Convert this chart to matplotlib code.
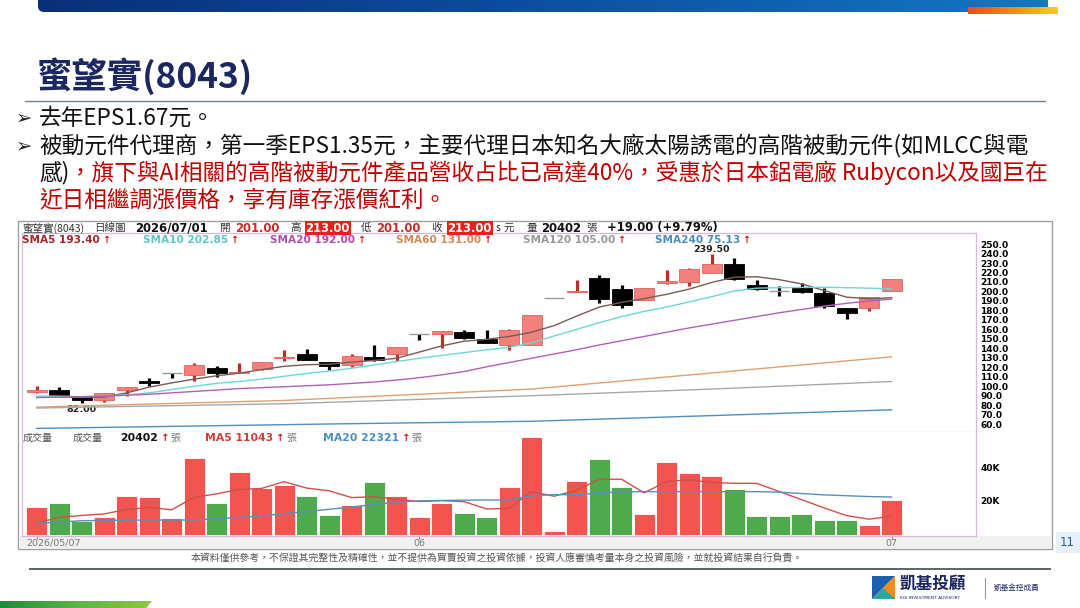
import numpy as np
import matplotlib.pyplot as plt
from matplotlib.patches import Rectangle, FancyBboxPatch, Polygon
from matplotlib.colors import LinearSegmentedColormap

plt.rcParams['font.family'] = ['Noto Sans CJK TC', 'DejaVu Sans']

# 日K資料 2026/05/07 ~ 2026/07/01
opens  = [93.5, 96, 88.5, 85.7, 95.5, 105, 114, 112, 119, 114, 118, 130, 133.5, 126, 122.5, 130.5, 134, 155.5, 155.5, 157,
          150, 143, 144, 193, 199, 214, 203, 191.5, 208.5, 210, 219.5, 229, 207, 200.5, 204, 198.5, 182.5, 182.5, 201]
highs  = [100.5, 99.5, 88.5, 93, 99.5, 108.5, 114, 124.5, 121.5, 124.5, 126, 138.5, 139, 126, 134, 144, 141.5, 155.5, 158.5, 159.5,
          159.5, 160, 175.5, 193, 212.5, 217, 207, 203.5, 223, 225, 239.5, 235.5, 212, 205.5, 209, 204, 182.5, 194, 213]
lows   = [93, 90, 82, 83, 90, 100.5, 108.5, 106, 110, 113.5, 117.5, 127, 128, 117.5, 120, 127, 127, 148.5, 140.5, 150,
          145.5, 138, 143.5, 193, 199, 188, 183, 191.5, 208, 205.5, 219.5, 212.5, 202, 195, 198.5, 182.5, 171, 179, 201]
closes = [96.3, 91, 85, 92.8, 99, 103.5, 114, 122.7, 114, 115, 125.5, 131, 128, 121.5, 132, 128, 141.5, 155.5, 158, 151,
          146, 159.5, 175.5, 193, 200, 192, 185.5, 203.5, 211.5, 224, 228.5, 213.5, 203, 200.5, 199, 185, 177.5, 194, 213]
volumes = [16.3, 19.0, 8.4, 10.8, 22.9, 22.5, 9.8, 45.3, 19.0, 37.2, 27.5, 29.4, 23.1, 11.8, 17.6, 31.4, 23.1, 10.8, 18.6, 12.7,
           10.4, 28.0, 57.8, 2.4, 31.8, 44.5, 28.0, 12.4, 42.7, 36.7, 34.7, 26.9, 11.4, 11.2, 12.4, 8.8, 8.8, 5.9, 20.4]  # 千張

sma5  = [88.5, 88.5, 88.5, 88.5, 93, 99, 103.5, 107.5, 111, 113.8, 117.5, 121, 122.7, 123.2, 125.5, 127.2, 129.5, 136, 142.5, 147.5,
         149.5, 152.5, 157, 164, 174, 183.5, 188.5, 192.5, 197, 202.5, 209.5, 215, 215.5, 212.5, 208, 201, 194, 192.3, 193.4]
sma10 = [89.5, 89.5, 89, 89.5, 91, 93, 96.5, 100, 103, 105, 107.5, 110.5, 113.5, 116, 119, 122.5, 126, 129.5, 132.5, 135.5,
         138.5, 141, 146, 153, 160, 167, 173.5, 179, 183.5, 189, 194.5, 200.5, 203.5, 204, 204.3, 204.4, 204, 203.5, 202.85]
sma20 = [88, 88.5, 89, 89.5, 90.5, 91.5, 93, 94.5, 96, 97.5, 98.5, 99.5, 100.5, 101.5, 103, 104.5, 106.5, 109, 112, 115.5,
         120.5, 125, 129.5, 134, 138.5, 143.5, 148, 152.5, 157, 161.5, 165.5, 169.5, 173.5, 177.5, 181, 184.5, 187.5, 190, 192]
sma60_idx,  sma60  = [0, 11, 22, 30, 38], [78, 85, 97, 114, 131]
sma120_idx, sma120 = [0, 11, 22, 30, 38], [77, 81.5, 90, 97, 105]
sma240_idx, sma240 = [0, 14, 22, 30, 38], [55.5, 60.5, 63, 69, 75.13]

vol_ma5  = [6.9, 10.4, 11.5, 12.4, 15.0, 16.3, 14.8, 22.2, 24.2, 26.8, 27.4, 31.4, 27.6, 26.0, 22.0, 22.5, 21.0, 19.7, 20.2, 19.6,
            15.3, 15.7, 25.5, 22.8, 26.3, 32.8, 32.8, 24.8, 31.5, 32.4, 30.9, 30.4, 30.4, 25.6, 20.8, 15.9, 11.4, 9.3, 11.04]
vol_ma20 = [6.9, 7.6, 8.4, 8.6, 8.7, 8.8, 8.8, 8.8, 9.6, 10.3, 11.3, 12.6, 13.8, 15.1, 16.5, 17.9, 19.3, 20.1, 20.3, 20.5,
            20.6, 20.6, 23.0, 23.8, 23.6, 24.8, 25.4, 25.5, 25.5, 25.5, 25.5, 25.5, 25.5, 25.2, 24.4, 23.6, 23.1, 22.6, 22.32]

date_idx = [0, 17, 38]
date_labels = ['2026/05/07', '06', '07']
price_ticks = np.arange(60, 251, 10)
vol_ticks = [20, 40]
vol_tick_labels = ['20K', '40K']

# 顏色
RED_BODY, RED_EDGE, RED_WICK = '#f3807c', '#e2625e', '#c22a2a'
VOL_RED, VOL_GREEN = '#f25450', '#4fa94d'
MA_COL = {'5': '#7a5a55', '10': '#6fd6d6', '20': '#b35fb8', '60': '#e0a070', '120': '#a8a8a8', '240': '#4d8fbf'}
TXT_RED = '#c00000'
NAVY = '#1c2661'

W, H = 1080, 608
fig = plt.figure(figsize=(W / 100, H / 100), dpi=100)
fig.patch.set_facecolor('white')


def px_rect(x0, y0, x1, y1):
    return [x0 / W, 1 - y1 / H, (x1 - x0) / W, (y1 - y0) / H]


bg = fig.add_axes([0, 0, 1, 1], zorder=0)
bg.axis('off')
ax = fig.add_axes(px_rect(22, 233, 976, 432), zorder=1)
axv = fig.add_axes(px_rect(22, 432, 976, 536), zorder=1, sharex=ax)
fg = fig.add_axes([0, 0, 1, 1], zorder=3)
fg.axis('off')
for a in (bg, fg):
    a.set_xlim(0, W)
    a.set_ylim(H, 0)


def grad(a, x0, x1, y0, y1, cols, clip):
    cmap = LinearSegmentedColormap.from_list('g', cols)
    im = a.imshow(np.linspace(0, 1, 256)[None, :], cmap=cmap, extent=(x0, x1, y1, y0),
                  aspect='auto', zorder=2, interpolation='bilinear')
    clip.set_transform(a.transData)
    im.set_clip_path(clip)


# 上方藍色橫條 + 橘色
grad(bg, 38, 1048, -8, 12, ['#0a2f7a', '#0d4fa0', '#1377c4'],
     FancyBboxPatch((38, -8), 1010, 20, boxstyle='round,pad=0,rounding_size=6'))
grad(bg, 968, 1058, 7, 14, ['#e0501e', '#f08a1c', '#f5cf1a'],
     Rectangle((968, 7), 90, 7))
# 左下綠色條
grad(bg, 0, 152, 601, 608, ['#1e8c3a', '#5bb545', '#8cc63f'],
     Polygon([(0, 601), (152, 601), (146, 608), (0, 608)]))

# 標題與內文
fg.text(37, 76, '蜜望實(8043)', fontsize=25.5, fontweight='bold', color=NAVY, va='center', ha='left')
bg.plot([25, 1045], [101, 101], color='#6f7f8f', lw=1)

renderer = fig.canvas.get_renderer()


def seq(x, y, parts, size, **kw):
    for s, col, gap in parts:
        t = fg.text(x, y, s, color=col, fontsize=size, va='center', ha='left', **kw)
        x = t.get_window_extent(renderer).x1 + gap
    return x


def put(x, y, s, col, size, **kw):
    fg.text(x, y, s, color=col, fontsize=size, va='center', ha='left', **kw)


for yy in (118, 146):
    fg.text(16, yy, '➢', fontsize=14, family=['DejaVu Sans'], va='center', ha='left', color='#222')
fs = 16.3
fg.text(39, 118, '去年EPS1.67元。', fontsize=fs, va='center', color='#111')
fg.text(39, 146, '被動元件代理商，第一季EPS1.35元，主要代理日本知名大廠太陽誘電的高階被動元件(如MLCC與電',
        fontsize=fs, va='center', color='#111')
seq(39, 173, [('感)', '#111', 0),
              ('，旗下與AI相關的高階被動元件產品營收占比已高達40%，受惠於日本鋁電廠 Rubycon以及國巨在', TXT_RED, 0)], fs)
fg.text(39, 200, '近日相繼調漲價格，享有庫存漲價紅利。', fontsize=fs, va='center', color=TXT_RED)

# 圖表外框
bg.add_patch(Rectangle((18, 221), 1034, 328, facecolor='white', edgecolor='#a0a0a0', lw=1, zorder=1))
bg.add_patch(Rectangle((19, 536), 1032, 12, facecolor='#f1f1f1', edgecolor='none', zorder=1.5))

x = np.arange(len(closes))
o, h, l, c = map(np.array, (opens, highs, lows, closes))
up = c > o
flat = np.abs(c - o) < 0.3

# K線
ax.vlines(x, l, h, colors=np.where(up, RED_WICK, 'black'), lw=2.3, zorder=2)
body = ~flat
ax.bar(x[body], np.abs(c - o)[body], bottom=np.minimum(o, c)[body], width=0.88,
       color=np.where(up, RED_BODY, 'black')[body], edgecolor=np.where(up, RED_EDGE, 'black')[body],
       lw=0.6, zorder=3)
ax.hlines(o[flat], x[flat] - 0.44, x[flat] + 0.44, colors='#9a9a9a', lw=1, zorder=3)

ax.plot(x, sma5, color=MA_COL['5'], lw=1, zorder=4)
ax.plot(x, sma10, color=MA_COL['10'], lw=1, zorder=4)
ax.plot(x, sma20, color=MA_COL['20'], lw=1, zorder=4)
ax.plot(sma60_idx, sma60, color=MA_COL['60'], lw=1, zorder=4)
ax.plot(sma120_idx, sma120, color=MA_COL['120'], lw=1, zorder=4)
ax.plot(sma240_idx, sma240, color=MA_COL['240'], lw=1, zorder=4)

hi = int(np.argmax(h))
lo = int(np.argmin(l))
ax.annotate(f'{h[hi]:.2f}', (hi, h[hi]), xytext=(0, 0), textcoords='offset points', ha='center', va='bottom',
            fontsize=6.8, fontweight='bold', family=['DejaVu Sans'], color='#222', zorder=6)
ax.annotate(f'{l[lo]:.2f}', (lo, l[lo]), xytext=(0, -1.5), textcoords='offset points', ha='center', va='top',
            fontsize=6.8, fontweight='bold', family=['DejaVu Sans'], color='#222')

ax.set_xlim(-0.65, 41.75)
ax.set_ylim(51.7, 261.7)
ax.yaxis.tick_right()
ax.set_yticks(price_ticks)
ax.set_yticklabels([f'{v:.1f}' for v in price_ticks], fontsize=6.5, fontweight='bold', family=['DejaVu Sans'])
ax.tick_params(axis='y', length=0, pad=3)
ax.tick_params(axis='x', bottom=False, labelbottom=False)
for s in ax.spines.values():
    s.set_color('#dcb6d6')
    s.set_linewidth(0.9)

# 成交量
vup = np.r_[True, c[1:] >= c[:-1]]
axv.bar(x, volumes, width=0.94, color=np.where(vup, VOL_RED, VOL_GREEN), edgecolor='white', lw=0.6, zorder=2)
axv.plot(x, vol_ma5, color='#d0504a', lw=1, zorder=3)
axv.plot(x, vol_ma20, color='#5a8fb8', lw=1, zorder=3)
axv.set_ylim(-0.6, 60.6)
axv.yaxis.tick_right()
axv.set_yticks(vol_ticks)
axv.set_yticklabels(vol_tick_labels, fontsize=6.5, fontweight='bold', family=['DejaVu Sans'])
axv.tick_params(axis='y', length=0, pad=3)
axv.set_xticks(date_idx)
axv.set_xticklabels([])
axv.tick_params(axis='x', length=2, color='#888')
for s in axv.spines.values():
    s.set_color('#dcb6d6')
    s.set_linewidth(0.9)
axv.spines['top'].set_visible(False)

for i, lab in zip(date_idx, date_labels):
    xp = 22 + (i + 0.65) * (954 / 42.4)
    fg.text(xp - 10 if i == 0 else xp, 543, lab, fontsize=6.8, color='#777', family=['DejaVu Sans'],
            ha='left' if i == 0 else 'center', va='center')

# 表頭
DJ = dict(family=['DejaVu Sans'], fontweight='bold')
hs, cs = 8.4, 7.6
hx = seq(22, 228, [('蜜望實(8043)', '#333', 10), ('日線圖', '#333', 10)], cs)
hx = seq(hx, 228, [('2026/07/01', '#111', 11)], hs, **DJ)
for name, val, box in [('開', '201.00', False), ('高', '213.00', True), ('低', '201.00', False), ('收', '213.00', True)]:
    hx = seq(hx, 228, [(name, '#333', 5)], cs)
    if box:
        t = fg.text(hx, 228, val, color='white', fontsize=hs, va='center', ha='left',
                    bbox=dict(facecolor='#e8201c', edgecolor='none', pad=0.6), **DJ)
    else:
        t = fg.text(hx, 228, val, color='#c4302b', fontsize=hs, va='center', ha='left', **DJ)
    hx = t.get_window_extent(renderer).x1 + 11
hx = seq(hx - 7, 228, [('s', '#333', 3), ('元', '#333', 12), ('量', '#333', 5)], cs)
hx = seq(hx, 228, [('20402', '#111', 5)], hs, **DJ)
hx = seq(hx, 228, [('張', '#333', 10)], cs)
seq(hx, 228, [('+19.00 (+9.79%)', '#111', 0)], hs, **DJ)

sma_heads = [('SMA5 193.40', '#a3262a', 22), ('SMA10 202.85', '#5cc8c8', 143), ('SMA20 192.00', '#b04cb0', 270),
             ('SMA60 131.00', '#d18a58', 396), ('SMA120 105.00', '#9a9a9a', 523), ('SMA240 75.13', '#4a8fc0', 655)]
for s, col, xs in sma_heads:
    hx = seq(xs, 240, [(s, col, 2)], 7.6, **DJ)
    put(hx, 240, '↑', '#d02020', 7, **DJ)

put(23, 438, '成交量', '#555', 7.2)
put(73, 438, '成交量', '#555', 7.2)
for xs, s, col in [(120, '20402', '#111'), (205, 'MA5 11043', '#d0403a'), (323, 'MA20 22321', '#4a8fc0')]:
    hx = seq(xs, 438, [(s, col, 2)], 7.8, **DJ)
    hx = seq(hx, 438, [('↑', '#d02020', 2)], 7.4, **DJ)
    put(hx, 438, '張', '#777', 7.2)

# 頁碼
bg.add_patch(Rectangle((1056, 532), 24, 21, facecolor='#e6f0fa', edgecolor='none', zorder=1))
fg.text(1067, 543, '11', fontsize=8.5, color='#2a5a9a', ha='center', va='center', family=['DejaVu Sans'])

# 免責聲明與頁尾
fg.text(497, 558, '本資料僅供參考，不保證其完整性及精確性，並不提供為買賣投資之投資依據，投資人應審慎考量本身之投資風險，並就投資結果自行負責。',
        fontsize=7.1, color='#555', ha='center', va='center')
bg.plot([30, 1050], [569, 569], color='#4d5b5b', lw=1.3)

# 標誌
bg.add_patch(Polygon([(872, 576), (895, 576), (872, 599)], facecolor='#1b5fae', zorder=3))
bg.add_patch(Polygon([(895, 576), (895, 599), (872, 599)], facecolor='#f08a1c', zorder=3))
bg.add_patch(Polygon([(872, 599), (895, 599), (883, 588)], facecolor='#2aa7a0', zorder=3))
fg.text(900, 584, '凱基投顧', fontsize=12, fontweight='bold', color=NAVY, ha='left', va='center')
fg.text(900, 598, 'KGI INVESTMENT ADVISORY', fontsize=3.2, color=NAVY, ha='left', va='center', family=['DejaVu Sans'])
bg.plot([985, 985], [578, 598], color='#999', lw=0.8)
fg.text(994, 588, '凱基金控成員', fontsize=5.5, color=NAVY, ha='left', va='center')

for a in (bg, fg):
    a.set_xlim(0, W)
    a.set_ylim(H, 0)

fig.savefig('out.png', dpi=100, facecolor='white')
